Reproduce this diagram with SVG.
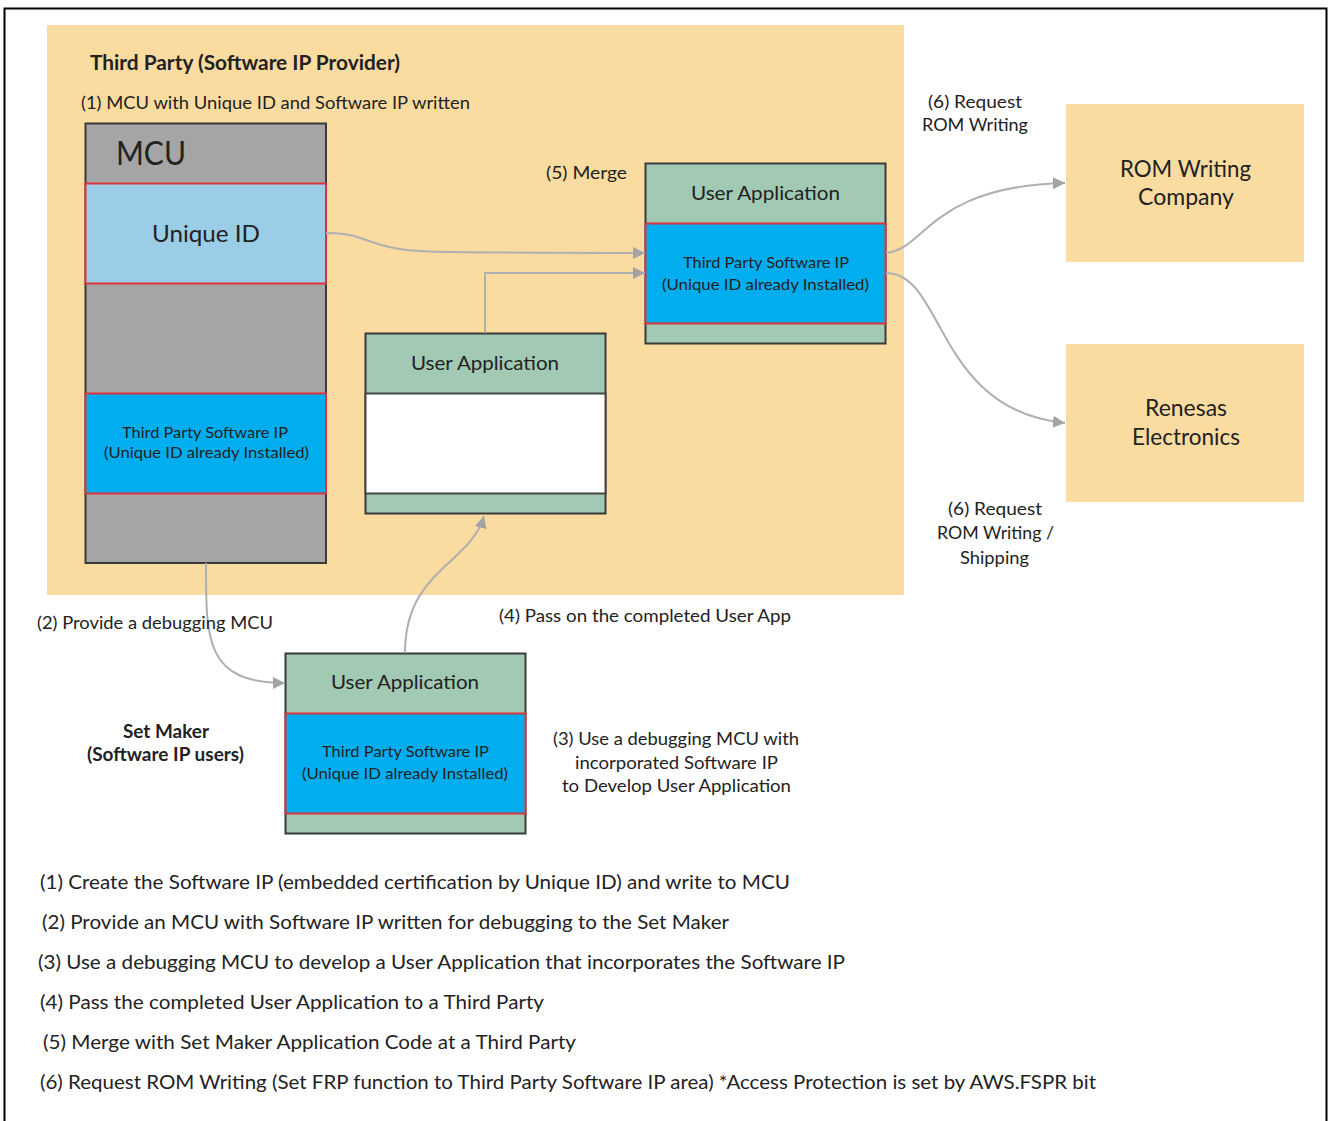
<svg xmlns="http://www.w3.org/2000/svg" width="1328" height="1121" viewBox="0 0 1328 1121">
<style>
text{font-family:Lato,"Open Sans","Liberation Sans",sans-serif;fill:#222}
.s18{font-size:18px}.s16{font-size:16px}.s20{font-size:20px}.s23{font-size:23px}
.b{font-weight:700}
.box{stroke:#3a3a3a;stroke-width:2}
.red{stroke:#dc323c;stroke-width:2}
.green{fill:#a1c9b4}.grey{fill:#a5a5a5}.blue{fill:#00aeef}.sky{fill:#9bcde6}.peach{fill:#fadba0}
.c{fill:none;stroke:#b0b0b0;stroke-width:2}
</style>
<defs>
<marker id="arrow" markerUnits="userSpaceOnUse" markerWidth="14" markerHeight="14" refX="12" refY="7" orient="auto">
<path d="M0 1L12 7L0 13Z" fill="#a3a3a3"/>
</marker>
</defs>
<rect width="1328" height="1121" fill="#fff"/>
<path d="M4.500 1121V8.500H1326.500V1121" fill="none" stroke="#000" stroke-width="2"/>
<g id="third-party"><rect class="peach" x="47" y="25" width="857" height="570"/>
<text class="s20 b" x="90" y="70" textLength="310" lengthAdjust="spacingAndGlyphs">Third Party (Software IP Provider)</text>
<text class="s18" x="81" y="109" textLength="389" lengthAdjust="spacingAndGlyphs">(1) MCU with Unique ID and Software IP written</text>
<text class="s18" x="546" y="179" textLength="81" lengthAdjust="spacingAndGlyphs">(5) Merge</text>
</g>
<g id="mcu">
<rect class="grey box" x="85.500" y="123.500" width="240.500" height="439.500"/>
<rect class="sky red" x="85.500" y="183.500" width="240.500" height="100"/>
<rect class="blue red" x="85.500" y="393.500" width="240.500" height="100"/>
<text x="116" y="165" font-size="33" textLength="70" lengthAdjust="spacingAndGlyphs">MCU</text>
<text x="152" y="242" font-size="24" textLength="108" lengthAdjust="spacingAndGlyphs">Unique ID</text>
<text class="s16" x="122" y="438" textLength="166" lengthAdjust="spacingAndGlyphs">Third Party Software IP</text>
<text class="s16" x="104" y="458" textLength="205" lengthAdjust="spacingAndGlyphs">(Unique ID already Installed)</text>
</g>
<g id="app-middle">
<rect class="green box" x="365.500" y="333.500" width="240" height="180"/>
<rect x="365.500" y="393.500" width="240" height="100" fill="#fff" stroke="#444" stroke-width="2"/>
<text class="s20" x="411" y="370" textLength="148" lengthAdjust="spacingAndGlyphs">User Application</text>
</g>
<g id="app-merged">
<rect class="green box" x="645.500" y="163.500" width="240" height="180"/>
<rect class="blue red" x="645.500" y="223.500" width="240" height="100"/>
<text class="s20" x="691" y="200" textLength="149" lengthAdjust="spacingAndGlyphs">User Application</text>
<text class="s16" x="683" y="268" textLength="166" lengthAdjust="spacingAndGlyphs">Third Party Software IP</text>
<text class="s16" x="662" y="290" textLength="207" lengthAdjust="spacingAndGlyphs">(Unique ID already Installed)</text>
</g>
<g id="app-setmaker">
<rect class="green box" x="285.500" y="653.500" width="240" height="180"/>
<rect class="blue red" x="285.500" y="713.500" width="240" height="100"/>
<text class="s20" x="331" y="689" textLength="148" lengthAdjust="spacingAndGlyphs">User Application</text>
<text class="s16" x="322" y="757" textLength="167" lengthAdjust="spacingAndGlyphs">Third Party Software IP</text>
<text class="s16" x="302" y="779" textLength="206" lengthAdjust="spacingAndGlyphs">(Unique ID already Installed)</text>
</g>
<g id="rom-company"><rect class="peach" x="1066" y="104" width="238" height="158"/>
<text class="s23" x="1120" y="177" textLength="131" lengthAdjust="spacingAndGlyphs">ROM Writing</text>
<text class="s23" x="1138" y="205" textLength="96" lengthAdjust="spacingAndGlyphs">Company</text>
</g>
<g id="renesas"><rect class="peach" x="1066" y="344" width="238" height="158"/>
<text class="s23" x="1145" y="416" textLength="82" lengthAdjust="spacingAndGlyphs">Renesas</text>
<text class="s23" x="1132" y="445" textLength="108" lengthAdjust="spacingAndGlyphs">Electronics</text>
</g>
<g id="connectors">
<path class="c" marker-end="url(#arrow)" d="M326 233C375 233 362 252 450 252C520 253 590 253 645 253"/>
<path class="c" marker-end="url(#arrow)" d="M485 333V273H645"/>
<path class="c" marker-end="url(#arrow)" d="M886 253C925 250 930 186 1065 183"/>
<path class="c" marker-end="url(#arrow)" d="M886 273C945 273 935 410 1065 423"/>
<path class="c" marker-end="url(#arrow)" d="M206 563C206 640 205 683 285 683"/>
<path class="c" marker-end="url(#arrow)" d="M405 653C405 570 470 565 484 516"/>
</g>
<g id="labels">
<text class="s18" x="928" y="108" textLength="94" lengthAdjust="spacingAndGlyphs">(6) Request</text>
<text class="s18" x="922" y="131" textLength="106" lengthAdjust="spacingAndGlyphs">ROM Writing</text>
<text class="s18" x="948" y="515" textLength="94" lengthAdjust="spacingAndGlyphs">(6) Request</text>
<text class="s18" x="937" y="539" textLength="117" lengthAdjust="spacingAndGlyphs">ROM Writing /</text>
<text class="s18" x="960" y="564" textLength="69" lengthAdjust="spacingAndGlyphs">Shipping</text>
<text class="s18" x="37" y="629" textLength="236" lengthAdjust="spacingAndGlyphs">(2) Provide a debugging MCU</text>
<text class="s18" x="499" y="622" textLength="292" lengthAdjust="spacingAndGlyphs">(4) Pass on the completed User App</text>
<text class="s18 b" x="123" y="738" textLength="86" lengthAdjust="spacingAndGlyphs">Set Maker</text>
<text class="s18 b" x="87" y="761" textLength="157" lengthAdjust="spacingAndGlyphs">(Software IP users)</text>
<text class="s18" x="553" y="745" textLength="246" lengthAdjust="spacingAndGlyphs">(3) Use a debugging MCU with</text>
<text class="s18" x="575" y="769" textLength="203" lengthAdjust="spacingAndGlyphs">incorporated Software IP</text>
<text class="s18" x="562" y="792" textLength="229" lengthAdjust="spacingAndGlyphs">to Develop User Application</text>
</g>
<g id="notes">
<text class="s20" x="40" y="889" textLength="750" lengthAdjust="spacingAndGlyphs">(1) Create the Software IP (embedded certification by Unique ID) and write to MCU</text>
<text class="s20" x="42" y="929" textLength="687" lengthAdjust="spacingAndGlyphs">(2) Provide an MCU with Software IP written for debugging to the Set Maker</text>
<text class="s20" x="38" y="969" textLength="807" lengthAdjust="spacingAndGlyphs">(3) Use a debugging MCU to develop a User Application that incorporates the Software IP</text>
<text class="s20" x="40" y="1009" textLength="504" lengthAdjust="spacingAndGlyphs">(4) Pass the completed User Application to a Third Party</text>
<text class="s20" x="43" y="1049" textLength="533" lengthAdjust="spacingAndGlyphs">(5) Merge with Set Maker Application Code at a Third Party</text>
<text class="s20" x="40" y="1089" textLength="1056" lengthAdjust="spacingAndGlyphs">(6) Request ROM Writing (Set FRP function to Third Party Software IP area) *Access Protection is set by AWS.FSPR bit</text>
</g>
</svg>
